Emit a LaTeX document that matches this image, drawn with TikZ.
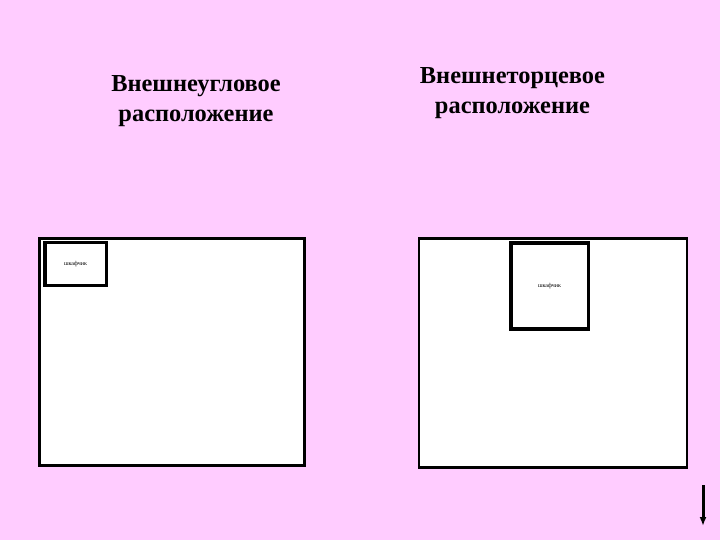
\documentclass[tikz,border=0pt]{standalone}
\usepackage{fontspec}
\setmainfont{Liberation Serif}
\usetikzlibrary{positioning,arrows.meta}
\definecolor{fon}{RGB}{255,204,255}
\tikzset{
	zag/.style={font=\fontsize{24.5}{30}\selectfont\bfseries, align=center},
	komnata/.style={draw, line width=2.8bp, fill=white},
	shkaf/.style={draw, line width=3.5bp, fill=white, font=\fontsize{6}{7}\selectfont}
}
\begin{document}
\begin{tikzpicture}[x=1bp, y=-1bp]
	\fill[fon](0, 0) rectangle (720, 540);
	% left
	\node[zag](zagL) at (196, 101.5){Внешнеугловое\\расположение};
	\draw[komnata](39.5, 238.5) rectangle (304.5, 465.5);
	\node[shkaf, minimum width=61.5bp, minimum height=42.5bp](shkafL) at (75.5, 264){шкафчик};
	% right
	\node[zag](zagR) at (512.5, 93.5){Внешнеторцевое\\расположение};
	\draw[komnata](419, 238.5) rectangle (687, 467.5);
	\node[shkaf, minimum width=77.5bp, minimum height=85.5bp](shkafR) at (549.5, 286){шкафчик};
	% arrow
	\coordinate(a1) at (703, 485);
	\coordinate(a2) at (703, 526);
	\draw[line width=3bp, -{Latex[length=9bp, width=7bp]}](a1)--(a2);
\end{tikzpicture}
\end{document}
